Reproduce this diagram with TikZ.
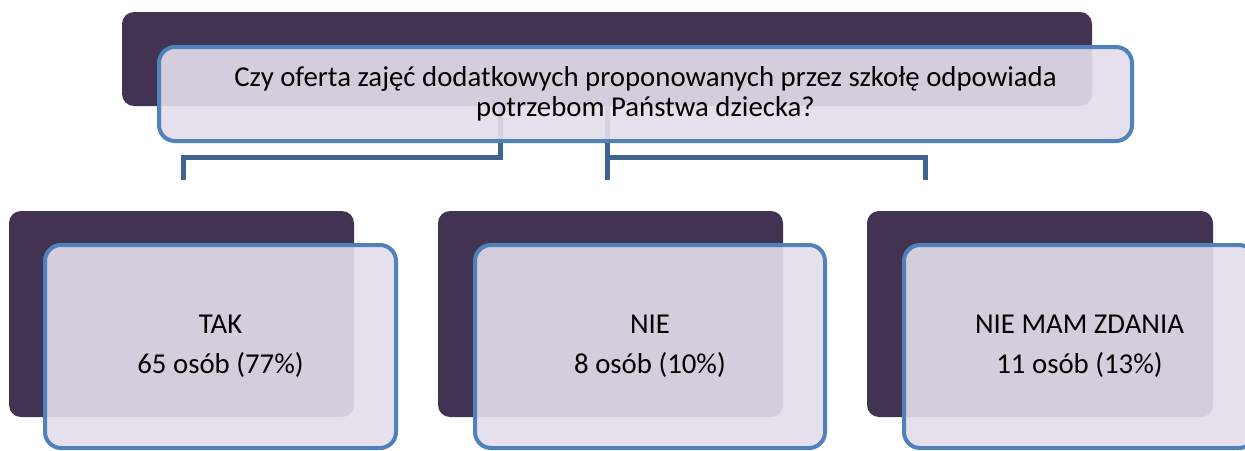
\documentclass[tikz,border=0pt]{standalone}
\usepackage{fontspec}
\setmainfont{Carlito}
\definecolor{darkbox}{HTML}{433353}
\definecolor{lightbox}{HTML}{E3DDEA}
\definecolor{bordblue}{HTML}{4F81BD}
\definecolor{connblue}{HTML}{41648F}
\tikzset{
  darkrect/.style={rectangle, fill=darkbox, rounded corners=12pt, inner sep=0pt},
  lightrect/.style={rectangle, draw=bordblue, line width=4pt, fill=lightbox,
    fill opacity=0.91, text opacity=1, rounded corners=16pt, inner sep=0pt,
    align=center, text=black},
  conn/.style={draw=connblue, line width=5pt},
  qtext/.style={font=\fontsize{28.8}{30.5}\selectfont},
  atext/.style={font=\fontsize{28.8}{40}\selectfont},
}
\begin{document}
\begin{tikzpicture}[x=1pt,y=-1pt]
\useasboundingbox (0,0) rectangle (1245,450);
\clip (0,0) rectangle (1245,450);
\fill[white] (0,0) rectangle (1245,450);
% dark back boxes
\node[darkrect, minimum width=970pt, minimum height=94pt] (topdark) at (607,59) {};
\node[darkrect, minimum width=345pt, minimum height=206pt] (d1) at (181.5,314) {};
\node[darkrect, minimum width=345pt, minimum height=206pt] (d2) at (610.5,314) {};
\node[darkrect, minimum width=346pt, minimum height=206pt] (d3) at (1040,314) {};
% connectors
\coordinate (s1) at (500,106);
\coordinate (s2) at (607,106);
\coordinate (e1) at (183,180);
\coordinate (e2) at (607,180);
\coordinate (e3) at (925,180);
\draw[conn] (s1) |- (e1 |- 0,157) -- (e1);
\draw[conn] (s2) -- (e2);
\draw[conn] (s2 |- 0,157) -| (e3);
% light front boxes
\node[lightrect, qtext, minimum width=973pt, minimum height=94pt] (top) at (645.5,94)
  {Czy oferta zajęć dodatkowych proponowanych przez szkołę odpowiada\\potrzebom Państwa dziecka?};
\node[lightrect, atext, minimum width=351pt, minimum height=203pt] (tak) at (220.5,346.5)
  {TAK\\65 osób (77\%)};
\node[lightrect, atext, minimum width=350pt, minimum height=203pt] (nie) at (650,346.5)
  {NIE\\8 osób (10\%)};
\node[lightrect, atext, minimum width=351pt, minimum height=203pt] (brak) at (1079.5,346.5)
  {NIE MAM ZDANIA\\11 osób (13\%)};
\end{tikzpicture}
\end{document}
